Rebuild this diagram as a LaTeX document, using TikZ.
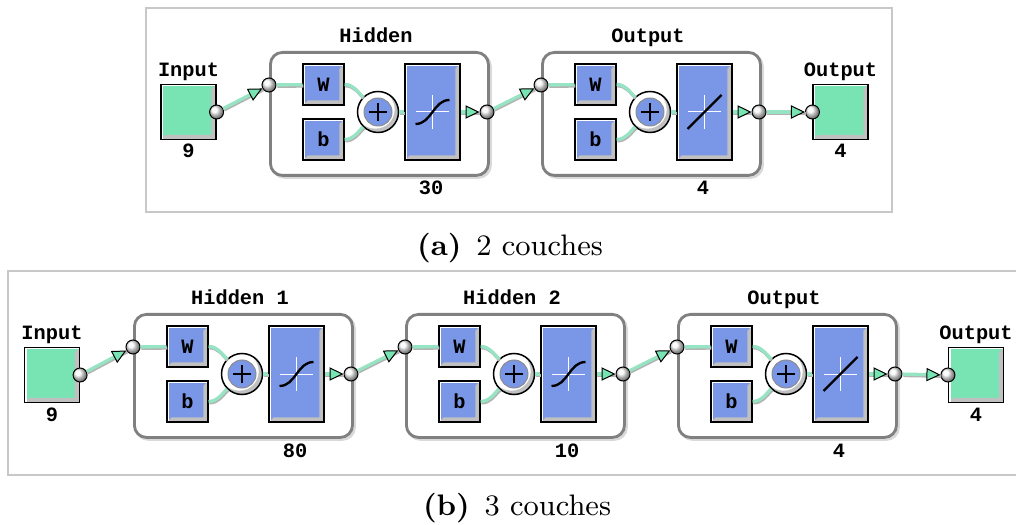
\documentclass[tikz,border=0pt]{standalone}
\usepackage{fontspec}
\usepackage{xcolor}
\usepackage{tikz}
\usetikzlibrary{arrows.meta}
\usetikzlibrary{positioning}

\newfontfamily\monofont{Liberation Mono}

\definecolor{boxgreen}{RGB}{120,228,180}
\definecolor{boxblue}{RGB}{122,150,230}
\definecolor{bevelgray}{RGB}{192,192,192}
\definecolor{framegray}{RGB}{200,200,200}
\definecolor{layergray}{RGB}{128,128,128}
\definecolor{wiregreen}{RGB}{150,228,196}

\newcommand\pxLen{0.3pt}
\newcommand\bevelPic{%
	\fill[bevelgray] (path picture bounding box.north east)
		-- (path picture bounding box.south east)
		-- (path picture bounding box.south west)
		-- ([shift={(1.4pt,1.4pt)}]path picture bounding box.south west)
		-- ([shift={(-1.4pt,1.4pt)}]path picture bounding box.south east)
		-- ([shift={(-1.4pt,-1.4pt)}]path picture bounding box.north east) -- cycle;
	\draw[white, line width=0.5pt] ([shift={(0.35pt,0pt)}]path picture bounding box.south west)
		-- ([shift={(0.35pt,-0.35pt)}]path picture bounding box.north west)
		-- ([shift={(0pt,-0.35pt)}]path picture bounding box.north east);
}
\newcommand\crossPic{%
	\draw[white, line width=0.3pt] ([xshift=-5pt]path picture bounding box.center) -- ([xshift=5pt]path picture bounding box.center);
	\draw[white, line width=0.3pt] ([yshift=-5pt]path picture bounding box.center) -- ([yshift=5pt]path picture bounding box.center);
}
\newcommand\sumPic{%
	\fill[bevelgray] (path picture bounding box.center) circle[radius=6.2pt];
	\fill[white] ([shift={(-0.8pt,0.8pt)}]path picture bounding box.center) circle[radius=5.8pt];
	\filldraw[fill=boxblue, draw=black!45, line width=0.3pt] (path picture bounding box.center) circle[radius=4.2pt];
	\draw[line width=0.6pt] ([xshift=-2.7pt]path picture bounding box.center) -- ([xshift=2.7pt]path picture bounding box.center);
	\draw[line width=0.6pt] ([yshift=-2.7pt]path picture bounding box.center) -- ([yshift=2.7pt]path picture bounding box.center);
}

\tikzset{
	tag/.style={font=\fontsize{6.1}{7}\selectfont\monofont\bfseries, inner sep=0pt},
	caption/.style={font=\fontsize{8.9}{10}\selectfont, inner sep=0pt},
	frame/.style={draw=framegray, line width=0.45pt},
	iobox/.style={rectangle, draw=black, line width=0.35pt, fill=boxgreen, minimum size=55*\pxLen, inner sep=0pt, path picture={\bevelPic}},
	weightbox/.style={rectangle, draw=black, line width=0.35pt, fill=boxblue, minimum size=41*\pxLen, inner sep=0pt, tag, path picture={\bevelPic}},
	transferbox/.style={rectangle, draw=black, line width=0.35pt, fill=boxblue, minimum width=55*\pxLen, minimum height=96*\pxLen, inner sep=0pt, path picture={\bevelPic\crossPic}},
	sumnode/.style={circle, draw=black, line width=0.45pt, fill=white, minimum size=41*\pxLen, inner sep=0pt, path picture={\sumPic}},
	port/.style={circle, draw=black, line width=0.3pt, minimum size=14*\pxLen, inner sep=0pt, shade, ball color=gray!8},
	layerbox/.style={rectangle, rounded corners=3.6pt, draw=layergray, line width=0.85pt, fill=white, minimum width=218*\pxLen, minimum height=123*\pxLen, inner sep=0pt, preaction={draw=black!15, line width=0.85pt, transform canvas={shift={(0.6pt,-0.6pt)}}}},
	wire/.style={draw=wiregreen, line width=1pt, preaction={draw=black!30, line width=1pt, arrows=-, transform canvas={shift={(0.25pt,-0.4pt)}}}},
	feed/.style={-{Triangle[length=4.2pt 0 0, width=4pt 0 0, color=black, fill=boxgreen, line width=0.3pt 0 0]}},
	curveline/.style={draw=black, line width=0.7pt},
}

\begin{document}
\begin{tikzpicture}[x=\pxLen, y=-\pxLen]
	\newcommand\drawLayer[6]{%
		\node[layerbox, anchor=north west] (#1) at (#2,#3) {};
		\node[tag, anchor=base] (#1title) at (#2+107,#3-8) {#4};
		\node[port] (#1in) at (#2,#3+34) {};
		\node[weightbox] (#1W) at (#2+54.5,#3+33.5) {W};
		\node[weightbox] (#1b) at (#2+54.5,#3+88.5) {b};
		\node[sumnode] (#1sum) at (#2+109,#3+61) {};
		\node[transferbox] (#1f) at (#2+163.5,#3+61) {};
		\node[port] (#1out) at (#2+218,#3+61) {};
		\node[tag, anchor=base] (#1size) at (#2+162,#3+144) {#5};
		\draw[curveline, shift={(#1f.center)}] #6;
		\draw[wire] (#1in) -- (#1W);
		\draw[wire] (#1W.east) to[out=0,in=135] (#1sum);
		\draw[wire] (#1b.east) to[out=0,in=-135] (#1sum);
		\draw[wire] (#1sum) -- (#1f);
		\draw[wire, feed] (#1f) -- (#1out);
	}
	\newcommand\tansigCurve{(-17,12) to[out=0,in=180] (17,-12)}
	\newcommand\purelinCurve{(-17,17) -- (17,-17)}
	\useasboundingbox (0,0) rectangle (1016,525);

	\draw[frame] (146,8) rectangle (892,212);
	\node[iobox] (inA) at (188.5,112) {};
	\node[tag, anchor=base] (inAtitle) at (188.5,77) {Input};
	\node[tag, anchor=base] (inAsize) at (188.5,158) {9};
	\node[port] (inAport) at (inA.east) {};
	\drawLayer{hidA}{269}{51}{Hidden}{30}{\tansigCurve}
	\drawLayer{outA}{541}{51}{Output}{4}{\purelinCurve}
	\node[iobox] (resA) at (840.5,112) {};
	\node[tag, anchor=base] (resAtitle) at (840.5,77) {Output};
	\node[tag, anchor=base] (resAsize) at (840.5,158) {4};
	\node[port] (resAport) at (resA.west) {};
	\draw[wire, feed] (inAport) -- (hidAin);
	\draw[wire, feed] (hidAout) -- (outAin);
	\draw[wire, feed] (outAout) -- (resAport);
	\node[caption, anchor=base] (capA) at (510,256) {\textbf{(a)}\enspace 2 couches};

	\draw[frame] (1016,271) -- (8,271) -- (8,475) -- (1016,475);
	\node[iobox] (inB) at (52,375) {};
	\node[tag, anchor=base] (inBtitle) at (52,340) {Input};
	\node[tag, anchor=base] (inBsize) at (52,421) {9};
	\node[port] (inBport) at (inB.east) {};
	\drawLayer{hidB}{133}{313}{Hidden 1}{80}{\tansigCurve}
	\drawLayer{hidC}{405}{313}{Hidden 2}{10}{\tansigCurve}
	\drawLayer{outB}{677}{313}{Output}{4}{\purelinCurve}
	\node[iobox] (resB) at (976,375) {};
	\node[tag, anchor=base] (resBtitle) at (976,340) {Output};
	\node[tag, anchor=base] (resBsize) at (976,421) {4};
	\node[port] (resBport) at (resB.west) {};
	\draw[wire, feed] (inBport) -- (hidBin);
	\draw[wire, feed] (hidBout) -- (hidCin);
	\draw[wire, feed] (hidCout) -- (outBin);
	\draw[wire, feed] (outBout) -- (resBport);
	\node[caption, anchor=base] (capB) at (517,515) {\textbf{(b)}\enspace 3 couches};
\end{tikzpicture}
\end{document}
